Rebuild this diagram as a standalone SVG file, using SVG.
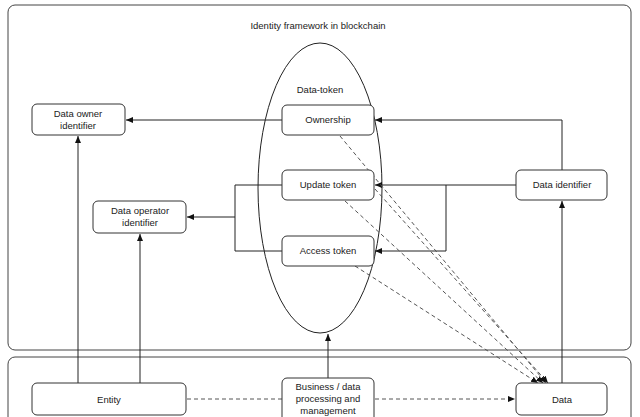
<svg xmlns="http://www.w3.org/2000/svg" width="640" height="417" viewBox="0 0 640 417">
<defs>
<marker id="a" markerWidth="8" markerHeight="8" refX="7" refY="4" orient="auto" markerUnits="userSpaceOnUse"><path d="M0,1 L7,4 L0,7 Z" fill="#111"/></marker>
<style>
.n{fill:#fff;stroke:#333;stroke-width:1}
.t{font-family:"Liberation Sans",Arial,sans-serif;font-size:9.5px;fill:#222;text-anchor:middle}
.c{fill:none;stroke:#222;stroke-width:1}
.d{fill:none;stroke:#555;stroke-width:1;stroke-dasharray:4,3}
</style>
</defs>
<rect width="640" height="417" fill="#fff"/>
<rect x="8" y="5" width="623" height="345" rx="7" fill="none" stroke="#444"/>
<rect x="8" y="357" width="623" height="70" rx="7" fill="none" stroke="#444"/>
<text class="t" x="318" y="29">Identity framework in blockchain</text>
<ellipse cx="320" cy="188" rx="62" ry="145" fill="none" stroke="#222"/>
<text class="t" x="320" y="93">Data-token</text>
<g id="conn">
<path class="c" d="M282,120 H126" marker-end="url(#a)"/>
<path class="c" d="M562,170 V120 H375" marker-end="url(#a)"/>
<path class="c" d="M516,185 H375" marker-end="url(#a)"/>
<path class="c" d="M446,185 V251 H375" marker-end="url(#a)"/>
<path class="c" d="M282,185 H235 V251 H282"/>
<path class="c" d="M235,217 H187" marker-end="url(#a)"/>
<path class="c" d="M78,383 V136" marker-end="url(#a)"/>
<path class="c" d="M140,383 V234" marker-end="url(#a)"/>
<path class="c" d="M328,378 V334" marker-end="url(#a)"/>
<path class="c" d="M562,383 V201" marker-end="url(#a)"/>
<path class="d" d="M187,399 H282"/>
<path class="d" d="M375,399 H515" marker-end="url(#a)"/>
<path class="d" d="M340,136 L546,383" marker-end="url(#a)"/>
<path class="d" d="M375,189 L548,383" marker-end="url(#a)"/>
<path class="d" d="M345,201 L543,383" marker-end="url(#a)"/>
<path class="d" d="M355,266 L538,383" marker-end="url(#a)"/>
</g>
<g id="owner"><rect class="n" x="32" y="104" width="93" height="31" rx="5"/><text class="t" x="78" y="117">Data owner</text><text class="t" x="78" y="129">identifier</text></g>
<g id="operator"><rect class="n" x="93" y="201" width="93" height="32" rx="5"/><text class="t" x="140" y="214">Data operator</text><text class="t" x="140" y="226">identifier</text></g>
<g id="ownership"><rect class="n" x="282" y="105" width="92" height="30" rx="5"/><text class="t" x="328" y="123">Ownership</text></g>
<g id="update"><rect class="n" x="282" y="170" width="92" height="30" rx="5"/><text class="t" x="328" y="188">Update token</text></g>
<g id="access"><rect class="n" x="282" y="236" width="92" height="30" rx="5"/><text class="t" x="328" y="254">Access token</text></g>
<g id="dataid"><rect class="n" x="516" y="170" width="91" height="30" rx="5"/><text class="t" x="562" y="188">Data identifier</text></g>
<g id="entity"><rect class="n" x="32" y="383" width="154" height="32" rx="5"/><text class="t" x="109" y="403">Entity</text></g>
<g id="business"><rect class="n" x="282" y="378" width="92" height="44" rx="5"/><text class="t" x="328" y="390">Business / data</text><text class="t" x="328" y="402">processing and</text><text class="t" x="328" y="414">management</text></g>
<g id="data"><rect class="n" x="516" y="383" width="91" height="32" rx="5"/><text class="t" x="562" y="403">Data</text></g>
</svg>
